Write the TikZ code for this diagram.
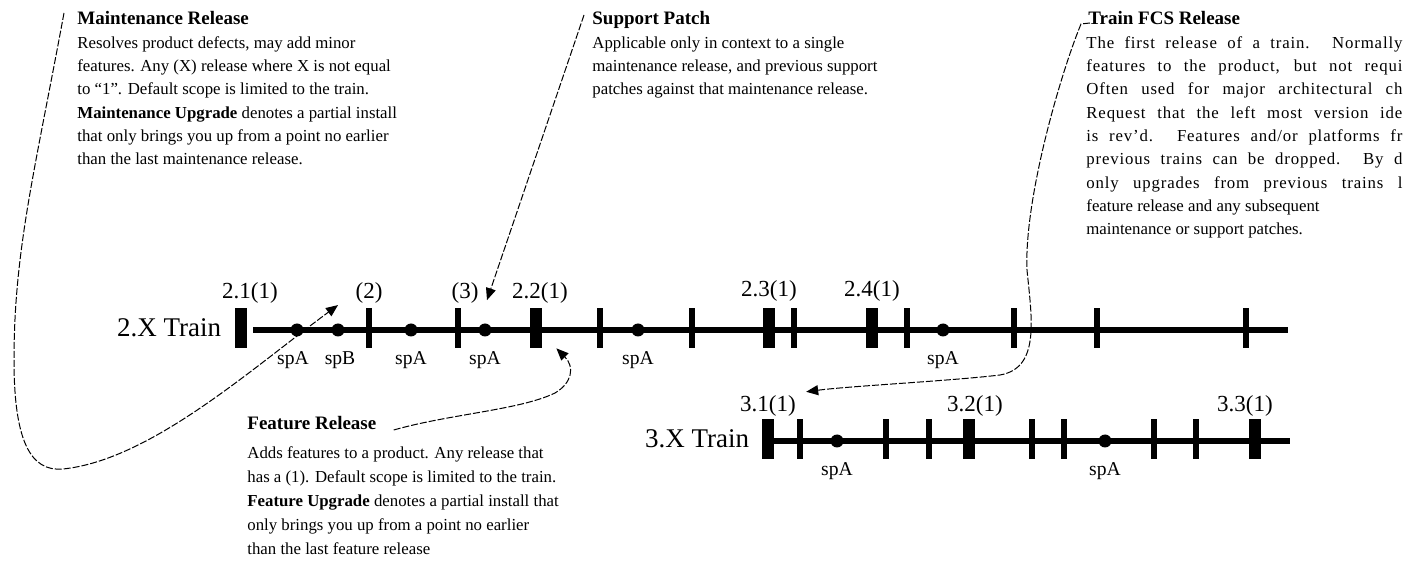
\documentclass[tikz,border=0pt]{standalone}
\usepackage{fontspec}
\setmainfont{Liberation Serif}
\usetikzlibrary{positioning,arrows.meta}
\newcommand{\cutline}[1]{\makebox[158pt][s]{\addfontfeature{LetterSpace=5}#1}}

\begin{document}
\begin{tikzpicture}[x=0.5pt, y=-0.5pt,
  rel/.style={rectangle, fill, inner sep=0, minimum width=6pt, minimum height=20pt},
  mnt/.style={rectangle, fill, inner sep=0, minimum width=2.75pt, minimum height=20pt},
  sp/.style={circle, fill, inner sep=0, minimum size=6.5pt},
  trn/.style={inner sep=0, font=\fontsize{13.5}{16}\selectfont},
  lbl/.style={inner sep=0, font=\fontsize{11.5}{14}\selectfont},
  splbl/.style={inner sep=0, font=\fontsize{9.8}{12}\selectfont},
  head/.style={inner sep=0, anchor=base west, font=\fontsize{9.5}{11.65}\selectfont\bfseries},
  note/.style={inner sep=0, anchor=base west, align=left, font=\fontsize{8.4}{11.65}\selectfont},
  s/.style={line width=3.25pt},
  call/.style={line width=0.5pt, dash pattern=on 3.5pt off 1pt, -{Triangle[length=6pt,width=5pt]}}]
	\useasboundingbox (0,0) rectangle (1403,571);

	% notes (base of a note is its last line)
	\node[head] (mr) at (77,25) {Maintenance Release};
	\node[note] (mr_text) at ([yshift=-69.9pt]mr.base west) {Resolves product defects, may add minor\\
		features. Any (X) release where X is not equal\\
		to “1”. Default scope is limited to the train.\\
		\textbf{Maintenance Upgrade} denotes a partial install\\
		that only brings you up from a point no earlier\\
		than the last maintenance release.};
	\node[head] (spt) at (592,25) {Support Patch};
	\node[note] (spt_text) at ([yshift=-34.95pt]spt.base west) {Applicable only in context to a single\\
		maintenance release, and previous support\\
		patches against that maintenance release.};
	\node[head] (fcs) at (1088,25) {Train FCS Release};
	\node[note] (fcs_text) at ([xshift=-1pt,yshift=-104.85pt]fcs.base west) {\cutline{The first release of a train. Normally}\\
		\cutline{features to the product, but not requi}\\
		\cutline{Often used for major architectural ch}\\
		\cutline{Request that the left most version ide}\\
		\cutline{is rev’d. Features and/or platforms fr}\\
		\cutline{previous trains can be dropped. By d}\\
		\cutline{only upgrades from previous trains l}\\
		feature release and any subsequent\\
		maintenance or support patches.};
	\node[head] (frt) at (247,430) {Feature Release};
	\node[note, font=\fontsize{8.4}{12}\selectfont] (frt_text) at ([yshift=-62pt]frt.base west) {Adds features to a product. Any release that\\
		has a (1). Default scope is limited to the train.\\
		\textbf{Feature Upgrade} denotes a partial install that\\
		only brings you up from a point no earlier\\
		than the last feature release};

	% 2.X train
	\node[rel] (r21) at (241,328) {};
	\node[trn, left=6.5pt of r21] (X2) {2.X Train};
	\coordinate (b2) at (253,330);
	\coordinate (e2) at (1288,330);
	\draw[s] (b2) -- (e2);
	\node[lbl, above=2pt of r21, xshift=4.5pt] (r21_label) {2.1(1)};
	\node[sp] (d1) at (297,330) {};
	\node[splbl, below=7pt of d1, xshift=-2pt] (d1_label) {spA};
	\node[sp] (d2) at (338,330) {};
	\node[splbl, below=7pt of d2, xshift=1pt] (d2_label) {spB};
	\node[mnt] (m2) at (369,328) {};
	\node[lbl, above=2pt of m2] (m2_label) {(2)};
	\node[sp] (d3) at (411,330) {};
	\node[splbl, below=7pt of d3] (d3_label) {spA};
	\node[mnt] (m3) at (458,328) {};
	\node[lbl, above=2pt of m3, xshift=3.5pt] (m3_label) {(3)};
	\node[sp] (d4) at (485,330) {};
	\node[splbl, below=7pt of d4] (d4_label) {spA};
	\node[rel] (r22) at (536,328) {};
	\node[lbl, above=2pt of r22, xshift=2pt] (r22_label) {2.2(1)};
	\node[mnt] (t1) at (600,328) {};
	\node[sp] (d5) at (638,330) {};
	\node[splbl, below=7pt of d5] (d5_label) {spA};
	\node[mnt] (t2) at (692,328) {};
	\node[rel] (r23) at (769,328) {};
	\node[lbl, above=3pt of r23] (r23_label) {2.3(1)};
	\node[mnt] (t3) at (794,328) {};
	\node[rel] (r24) at (872,328) {};
	\node[lbl, above=3pt of r24] (r24_label) {2.4(1)};
	\node[mnt] (t4) at (907,328) {};
	\node[sp] (d6) at (943,330) {};
	\node[splbl, below=7pt of d6] (d6_label) {spA};
	\node[mnt] (t5) at (1014,328) {};
	\node[mnt] (t6) at (1097,328) {};
	\node[mnt] (t7) at (1246,328) {};

	% 3.X train
	\node[rel] (r31) at (768,439) {};
	\node[trn, left=6pt of r31] (X3) {3.X Train};
	\coordinate (e3) at (1290,441);
	\draw[s] (r31 |- e3) -- (e3);
	\node[lbl, above=1pt of r31] (r31_label) {3.1(1)};
	\node[mnt] (t8) at (800,439) {};
	\node[sp] (d7) at (837,441) {};
	\node[splbl, below=7pt of d7] (d7_label) {spA};
	\node[mnt] (t9) at (886,439) {};
	\node[mnt] (t10) at (929,439) {};
	\node[rel] (r32) at (969,439) {};
	\node[lbl, above=1pt of r32, xshift=3pt] (r32_label) {3.2(1)};
	\node[mnt] (t11) at (1032,439) {};
	\node[mnt] (t12) at (1064,439) {};
	\node[sp] (d8) at (1105,441) {};
	\node[splbl, below=7pt of d8] (d8_label) {spA};
	\node[mnt] (t13) at (1154,439) {};
	\node[mnt] (t14) at (1196,439) {};
	\node[rel] (r33) at (1255,439) {};
	\node[lbl, above=1pt of r33, xshift=-5pt] (r33_label) {3.3(1)};

	% callouts
	\draw[call] ([xshift=-6.5pt,yshift=6pt]mr.base west) .. controls (35,170) and (14,250) .. (14,360)
		.. controls (14,440) and (30,472) .. (63,469) .. controls (150,460) and (250,370) .. ([yshift=9pt]d2.north);
	\draw[call] ([xshift=-4pt,yshift=5pt]spt.base west) -- ([xshift=1pt,yshift=11.5pt]d4.north);
	\draw[call] ([xshift=1pt,yshift=1pt]fcs.base west) -- (1081,24) .. controls (1060,75) and (1024,200) .. (1027,270)
		.. controls (1032,320) and (1040,368) .. (1000,375) .. controls (950,381) and (850,386) .. ([xshift=5pt,yshift=7pt]r31_label.east);
	\draw[call] ([xshift=8.5pt]frt.base east) .. controls (450,414) and (520,410) .. (555,393)
		.. controls (572,383) and (575,367) .. ([xshift=7pt]r22.south east);
\end{tikzpicture}
\end{document}
